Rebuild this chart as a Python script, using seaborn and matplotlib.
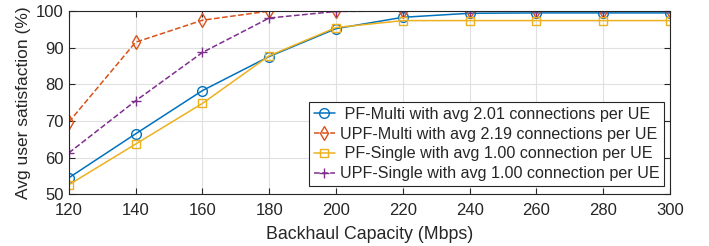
import pandas as pd
import numpy as np
import matplotlib
matplotlib.use('Agg')
import matplotlib.pyplot as plt
import seaborn as sns

# data
capacity = [120, 140, 160, 180, 200, 220, 240, 260, 280, 300]
pf_multi = [54.5, 66.5, 78.3, 87.6, 95.2, 98.3, 99.4, 99.5, 99.5, 99.5]
upf_multi = [69.7, 91.5, 97.5, 100.0, 100.0, 100.0, 100.0, 100.0, 100.0, 100.0]
pf_single = [52.6, 63.7, 74.8, 87.8, 95.5, 97.4, 97.4, 97.4, 97.4, 97.4]
upf_single = [61.3, 75.5, 88.7, 98.1, 99.9, 100.0, 100.0, 100.0, 100.0, 100.0]

labels = [' PF-Multi with avg 2.01 connections per UE',
          'UPF-Multi with avg 2.19 connections per UE',
          ' PF-Single with avg 1.00 connection per UE',
          'UPF-Single with avg 1.00 connection per UE']
colors = ['#0072BD', '#D95319', '#EDB120', '#7E2F8E']
markers = ['o', 'd', 's', '+']
styles = ['-', '--', '-', '--']

sns.set_style('whitegrid')
plt.rcParams['font.family'] = ['Liberation Sans', 'DejaVu Sans']

fig, ax = plt.subplots(figsize=(7.09, 2.46), dpi=100)
fig.subplots_adjust(left=0.097, right=0.945, top=0.955, bottom=0.21)

for vals, lab, c, m, ls in zip([pf_multi, upf_multi, pf_single, upf_single],
                               labels, colors, markers, styles):
    df = pd.DataFrame({'x': capacity, 'y': vals})
    sns.lineplot(data=df, x='x', y='y', ax=ax, color=c, linestyle=ls,
                 linewidth=1.1, marker=m, markersize=7 if m != 's' else 5.5,
                 markerfacecolor='none', markeredgecolor=c, markeredgewidth=1.0,
                 label=lab)

ax.set_xlim(120, 300)
ax.set_ylim(50, 100)
ax.set_xticks(capacity)
ax.set_yticks(np.arange(50, 101, 10))
ax.set_xlabel('Backhaul Capacity (Mbps)', fontsize=12.8, color='#262626', labelpad=6)
ax.set_ylabel('Avg user satisfaction (%)', fontsize=12.5, color='#262626', labelpad=4)
ax.tick_params(labelsize=12, colors='#262626', direction='in', length=4,
               top=True, right=True, bottom=True, left=True)
ax.tick_params(axis='x', pad=6)
ax.grid(True, color='#e0e0e0', linewidth=0.8)
for s in ax.spines.values():
    s.set_color('#262626')
    s.set_linewidth(0.8)

leg = ax.legend(loc='lower right', fontsize=11.6, frameon=True, fancybox=False,
                borderpad=0.3, labelspacing=0.3, handlelength=1.3,
                handletextpad=0.3, bbox_to_anchor=(0.99, 0.045), borderaxespad=0.0)
leg.get_frame().set_edgecolor('#262626')
leg.get_frame().set_linewidth(0.8)
leg.get_frame().set_alpha(1)

plt.savefig('out.png', dpi=100)
